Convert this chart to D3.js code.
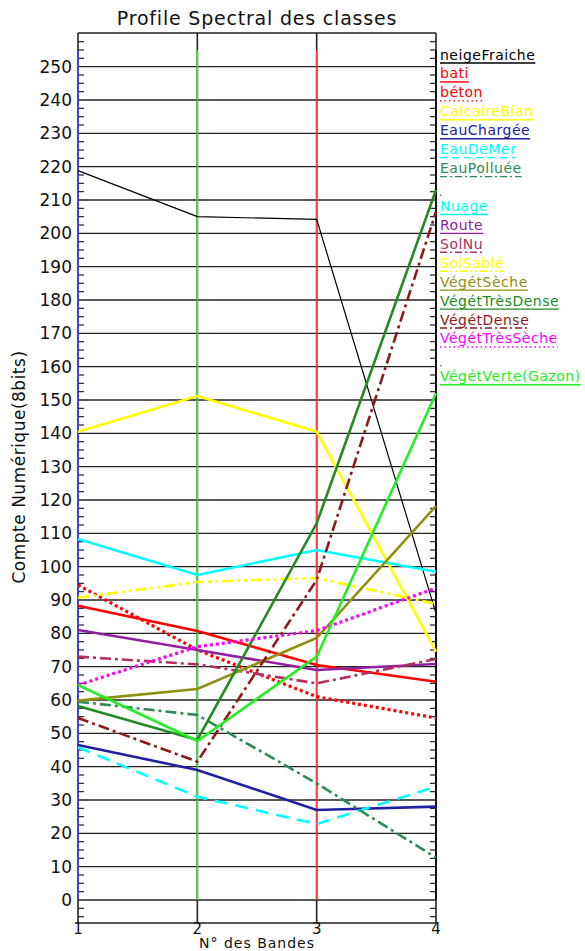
<!DOCTYPE html>
<html>
<head>
<meta charset="utf-8">
<script src="https://cdn.jsdelivr.net/npm/d3@7"></script>
<style>
  html, body { margin: 0; padding: 0; background: #fff; }
  svg { display: block; }
  text { font-family: "DejaVu Sans", sans-serif; }
</style>
</head>
<body>
<svg id="chart" width="585" height="951"></svg>
<script>
// Spectral bands (x axis)
const bands = [1, 2, 3, 4];

// Mean digital count per class for bands 1..4
const neigeFraiche   = [218.8, 205.0, 204.2, 86.0];
const bati           = [88.3, 80.7, 70.5, 65.5];
const beton          = [94.5, 75.0, 61.0, 54.6];
const calcaireBlan   = [140.5, 151.2, 140.5, 74.5];
const eauChargee     = [46.5, 39.0, 27.0, 28.0];
const eauDeMer       = [45.8, 31.0, 22.8, 34.0];
const eauPolluee     = [59.5, 55.5, 35.0, 12.7];
const nuage          = [108.3, 97.5, 105.0, 98.5];
const route          = [81.0, 75.0, 69.0, 70.8];
const solNu          = [73.0, 70.7, 65.0, 72.3];
const solSable       = [90.7, 95.4, 96.6, 88.8];
const vegetSeche     = [59.8, 63.3, 78.6, 118.2];
const vegetTresDense = [58.2, 48.0, 113.0, 213.0];
const vegetDense     = [54.6, 41.5, 96.0, 206.5];
const vegetTresSeche = [64.5, 76.0, 80.8, 93.6];
const vegetVerte     = [64.5, 47.7, 73.0, 152.0];

// Class names, in legend order (null = empty legend slot)
const classNames = [
  "neigeFraiche", "bati", "béton", "CalcaireBlan", "EauChargée", "EauDeMer", "EauPolluée",
  null,
  "Nuage", "Route", "SolNu", "SolSablé", "VégétSèche", "VégétTrèsDense", "VégétDense", "VégétTrèsSèche",
  null,
  "VégétVerte(Gazon)"
];
const classValues = [
  neigeFraiche, bati, beton, calcaireBlan, eauChargee, eauDeMer, eauPolluee,
  null,
  nuage, route, solNu, solSable, vegetSeche, vegetTresDense, vegetDense, vegetTresSeche,
  null,
  vegetVerte
];
const classColors = [
  "#000000", "#ff0000", "#ff0000", "#ffff00", "#2020a0", "#00ffff", "#2e8b57",
  "#777777",
  "#00ffff", "#9020a0", "#b03060", "#ffff00", "#8f8f10", "#228b22", "#8b1a1a", "#ff00ff",
  "#777777",
  "#22ee22"
];
// line style codes: solid, dot, dash, dashdot, dash3dot
const classStyles = [
  "solid", "solid", "dot", "solid", "solid", "dash", "dashdot",
  "dot",
  "solid", "solid", "dashdot", "dash3dot", "solid", "solid", "dashdot", "dot",
  "dot",
  "solid"
];

// Axis ticks
const yMajorTicks = d3.range(0, 251, 10);
const yMinorTicks = d3.range(-5, 260, 2.5);
const yTitle = "Compte Numérique(8bits)";
const xTitle = "N° des Bandes";
const chartTitle = "Profile Spectral des classes";

const svg = d3.select("#chart");

const plotLeft = 78, plotRight = 436, plotTop = 33, plotBottom = 923;
const x = d3.scaleLinear().domain([1, 4]).range([plotLeft, plotRight]);
const y = d3.scaleLinear().domain([0, 250]).range([900, 66.67]);

const dashFor = (s, w) => {
  switch (s) {
    case "dot": return w < 2 ? "1.5,3" : "3,3";
    case "dash": return w < 2 ? "7,5" : "13,8";
    case "dashdot": return w < 2 ? "7,3,2,3" : "11,4,3,4";
    case "dash3dot": return w < 2 ? "7,3,2,3,2,3" : "11,4,3,4,3,4";
    default: return null;
  }
};

// Horizontal grid lines at each major tick
svg.append("g").selectAll("line")
  .data(yMajorTicks)
  .join("line")
  .attr("x1", plotLeft).attr("x2", plotRight)
  .attr("y1", d => y(d)).attr("y2", d => y(d))
  .attr("stroke", "#222").attr("stroke-width", 1.4);

// Minor ticks, inward on both sides
const minor = svg.append("g").attr("stroke", "#222").attr("stroke-width", 1.2);
minor.selectAll("line.l")
  .data(yMinorTicks.filter(v => v % 10 !== 0))
  .join("line").attr("class", "l")
  .attr("x1", plotLeft).attr("x2", plotLeft + 6)
  .attr("y1", d => y(d)).attr("y2", d => y(d));
minor.selectAll("line.r")
  .data(yMinorTicks.filter(v => v % 10 !== 0))
  .join("line").attr("class", "r")
  .attr("x1", plotRight - 6).attr("x2", plotRight)
  .attr("y1", d => y(d)).attr("y2", d => y(d));

// Band verticals: black full height, coloured over the 0..255 range
const bandColors = ["#4040ff", "#22ee22", "#ff4040", "#000000"];
svg.append("g").selectAll("line")
  .data(bands)
  .join("line")
  .attr("x1", d => x(d)).attr("x2", d => x(d))
  .attr("y1", plotTop).attr("y2", plotBottom)
  .attr("stroke", "#222").attr("stroke-width", 1.6);
svg.append("g").selectAll("line")
  .data(bands)
  .join("line")
  .attr("x1", d => x(d)).attr("x2", d => x(d))
  .attr("y1", y(0)).attr("y2", y(255))
  .attr("stroke", (d, i) => bandColors[i]).attr("stroke-width", 1.6);

// Frame top and bottom
svg.append("line").attr("x1", plotLeft).attr("x2", plotRight).attr("y1", plotTop).attr("y2", plotTop)
  .attr("stroke", "#222").attr("stroke-width", 1.6);
svg.append("line").attr("x1", plotLeft).attr("x2", plotRight).attr("y1", plotBottom).attr("y2", plotBottom)
  .attr("stroke", "#222").attr("stroke-width", 1.6);

// Y tick labels
svg.append("g").selectAll("text")
  .data(yMajorTicks)
  .join("text")
  .attr("x", plotLeft - 6).attr("y", d => y(d) + 6)
  .attr("text-anchor", "end")
  .attr("font-size", 17)
  .attr("fill", "#111")
  .text(d => d);

// X tick labels
svg.append("g").selectAll("text")
  .data(bands)
  .join("text")
  .attr("x", d => x(d)).attr("y", 934)
  .attr("text-anchor", "middle")
  .attr("font-size", 15)
  .attr("fill", "#111")
  .text(d => d);

// Titles
svg.append("text").attr("x", (plotLeft + plotRight) / 2).attr("y", 25)
  .attr("text-anchor", "middle").attr("font-size", 19).attr("letter-spacing", 0.8).attr("fill", "#111")
  .text(chartTitle);
svg.append("text").attr("x", (plotLeft + plotRight) / 2).attr("y", 948)
  .attr("text-anchor", "middle").attr("font-size", 14).attr("letter-spacing", 1).attr("fill", "#111")
  .text(xTitle);
svg.append("text")
  .attr("transform", "translate(25,467) rotate(-90)")
  .attr("text-anchor", "middle").attr("font-size", 17).attr("letter-spacing", 0.5).attr("fill", "#111")
  .text(yTitle);

// Class profiles
const line = d3.line().x((d, i) => x(bands[i])).y(d => y(d));
const series = classNames.map((n, i) => ({ name: n, values: classValues[i], color: classColors[i], style: classStyles[i] }))
  .filter(s => s.values);
svg.append("g").selectAll("path")
  .data(series)
  .join("path")
  .attr("d", d => line(d.values))
  .attr("fill", "none")
  .attr("stroke", d => d.color)
  .attr("stroke-width", d => d.name === "neigeFraiche" ? 1.2 : (d.style === "dot" ? 3.2 : 2.6))
  .attr("stroke-dasharray", d => dashFor(d.style, d.name === "neigeFraiche" ? 1 : 3));

// Legend
const legX = 440, legY0 = 63, legStep = 18.93;
const leg = svg.append("g");
classNames.forEach((n, i) => {
  const uy = legY0 + i * legStep;
  if (n === null) {
    leg.append("rect").attr("x", legX).attr("y", uy - 1).attr("width", 1.5).attr("height", 1.5)
      .attr("fill", classColors[i]);
    return;
  }
  const t = leg.append("text")
    .attr("x", legX).attr("y", uy - 3.5)
    .attr("font-size", 14)
    .attr("letter-spacing", 0.5)
    .attr("fill", classColors[i])
    .text(n);
  const w = t.node().getComputedTextLength();
  leg.append("line")
    .attr("x1", legX).attr("x2", legX + w)
    .attr("y1", uy).attr("y2", uy)
    .attr("stroke", classColors[i])
    .attr("stroke-width", 1.4)
    .attr("stroke-dasharray", dashFor(classStyles[i], 1));
});
</script>
</body>
</html>
